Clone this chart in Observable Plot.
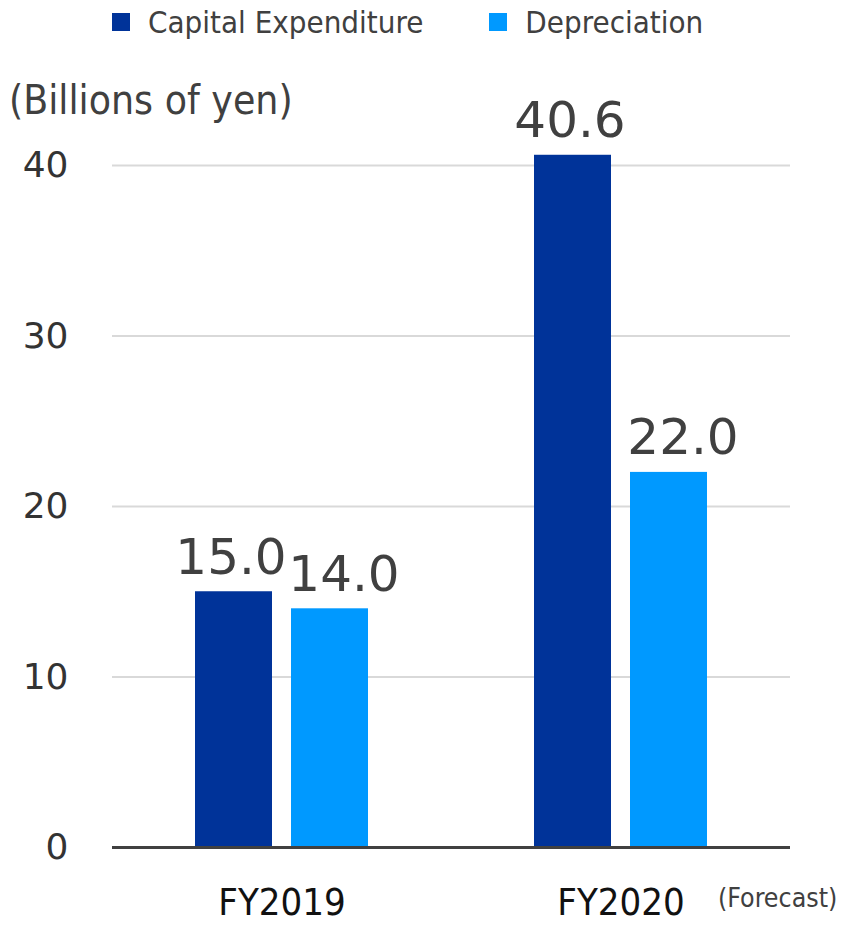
<!DOCTYPE html>
<html><head><meta charset="utf-8">
<script src="https://cdn.jsdelivr.net/npm/d3@7"></script>
<script src="https://cdn.jsdelivr.net/npm/@observablehq/plot@0.6"></script>
<style>
body{margin:0;background:#fff;}
#wrap{position:relative;width:844px;height:926px;color:#404040;}
.cond{font-family:"DejaVu Sans Condensed","Liberation Sans Narrow","Roboto Condensed",sans-serif;}
#legend{position:absolute;top:0;left:112px;height:44px;display:flex;align-items:center;font-size:31px;}
#legend .item{display:flex;align-items:center;margin-right:66px;}
#legend .sw{width:18px;height:18px;margin-right:18px;}
#ylab{position:absolute;left:9px;top:76px;font-size:40.5px;line-height:1.2;}
#fc{position:absolute;left:718px;top:882px;font-size:26.5px;line-height:1.2;}
#chart{position:absolute;left:0;top:0;}
</style></head><body>
<div id="wrap">
  <div id="chart"></div>
  <div id="legend" class="cond"></div>
  <div id="ylab" class="cond">(Billions of yen)</div>
  <div id="fc" class="cond">(Forecast)</div>
</div>
<script>
const years = ["FY2019", "FY2020"];
const series = ["Capital Expenditure", "Depreciation"];
const capex = [15.0, 40.6];
const depreciation = [14.0, 22.0];
const yTicks = [0, 10, 20, 30, 40];
const colors = ["#003399", "#0099FF"];

const data = years.flatMap((y, i) => [
  {year: y, series: series[0], value: capex[i]},
  {year: y, series: series[1], value: depreciation[i]}
]);

const condFont = '"DejaVu Sans Condensed","Liberation Sans Narrow","Roboto Condensed",sans-serif';
const labelOpts = {fx: "year", x: "series", y: "value", text: d => d.value.toFixed(1),
  lineAnchor: "bottom", dy: -18, fontSize: 50, fontFamily: "DejaVu Sans", fill: "#404040"};

const plot = Plot.plot({
  width: 844, height: 926,
  marginLeft: 112, marginRight: 54, marginTop: 165, marginBottom: 79,
  fx: {domain: years, paddingInner: 0, paddingOuter: 0, label: null},
  x: {domain: series, paddingInner: 0.2, paddingOuter: 0.857, axis: null},
  y: {domain: [0, 40], label: null},
  color: {domain: series, range: colors},
  style: {background: "#fff", color: "#404040"},
  marks: [
    Plot.ruleY(yTicks.filter(d => d > 0), {stroke: "#d9d9d9", strokeWidth: 2}),
    Plot.barY(data, {fx: "year", x: "series", y: "value", fill: "series"}),
    Plot.ruleY([0], {stroke: "#404040", strokeWidth: 3}),
    Plot.text(data.filter(d => d.series === series[0]), {...labelOpts, dx: -3}),
    Plot.text(data.filter(d => d.series === series[1]), {...labelOpts, dx: 14}),
    Plot.axisY(yTicks, {tickSize: 0, tickPadding: 44, fontSize: 36, fontFamily: "DejaVu Sans", fill: "#333", label: null}),
    Plot.axisFx({anchor: "bottom", tickSize: 0, tickPadding: 41, fontSize: 38, fontFamily: condFont, fill: "#111", label: null})
  ]
});
document.getElementById("chart").appendChild(plot);

const legend = document.getElementById("legend");
series.forEach((s, i) => {
  const it = document.createElement("div");
  it.className = "item";
  const sw = document.createElement("div");
  sw.className = "sw";
  sw.style.background = colors[i];
  const t = document.createElement("span");
  t.textContent = s;
  it.appendChild(sw); it.appendChild(t);
  legend.appendChild(it);
});
</script>
</body></html>
